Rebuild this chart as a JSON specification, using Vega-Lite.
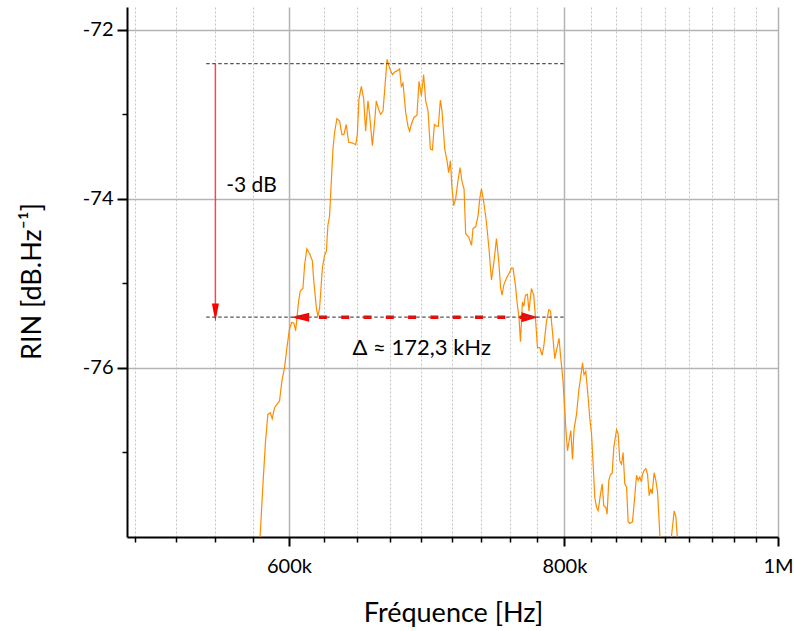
{
  "$schema": "https://vega.github.io/schema/vega-lite/v6.json",
  "width": 651,
  "height": 530,
  "autosize": "none",
  "padding": {"left": 127, "top": 7, "right": 16, "bottom": 94},
  "background": "white",
  "config": {"view": {"stroke": null}, "font": "Lato"},
  "datasets": {
    "spectrum": [
      {"f": 581500, "rin": -78.24}, {"f": 583800, "rin": -77.41}, {"f": 585500, "rin": -76.86}, {"f": 586900, "rin": -76.55},
      {"f": 588400, "rin": -76.53}, {"f": 589600, "rin": -76.60}, {"f": 591000, "rin": -76.47}, {"f": 594100, "rin": -76.39},
      {"f": 595600, "rin": -76.15}, {"f": 597200, "rin": -76.00}, {"f": 598700, "rin": -75.76}, {"f": 600400, "rin": -75.53},
      {"f": 601800, "rin": -75.46}, {"f": 603100, "rin": -75.47}, {"f": 604200, "rin": -75.56}, {"f": 605200, "rin": -75.37},
      {"f": 606100, "rin": -75.21}, {"f": 607100, "rin": -75.09}, {"f": 608800, "rin": -75.06}, {"f": 609900, "rin": -74.78},
      {"f": 611300, "rin": -74.59}, {"f": 613100, "rin": -74.65}, {"f": 614800, "rin": -74.73}, {"f": 615800, "rin": -74.98},
      {"f": 617400, "rin": -75.29}, {"f": 618400, "rin": -75.39}, {"f": 619500, "rin": -75.29}, {"f": 621300, "rin": -74.82},
      {"f": 622700, "rin": -74.67}, {"f": 623900, "rin": -74.62}, {"f": 624900, "rin": -74.31}, {"f": 626000, "rin": -74.20},
      {"f": 627100, "rin": -73.80}, {"f": 628200, "rin": -73.41}, {"f": 629300, "rin": -73.21}, {"f": 630800, "rin": -73.05},
      {"f": 632600, "rin": -73.08}, {"f": 634100, "rin": -73.24}, {"f": 635400, "rin": -73.24}, {"f": 637000, "rin": -73.12},
      {"f": 638600, "rin": -73.33}, {"f": 641400, "rin": -73.34}, {"f": 643300, "rin": -73.36}, {"f": 644400, "rin": -73.24},
      {"f": 645500, "rin": -72.82}, {"f": 647100, "rin": -72.67}, {"f": 648700, "rin": -72.82}, {"f": 650000, "rin": -73.20},
      {"f": 651600, "rin": -72.84}, {"f": 652700, "rin": -73.00}, {"f": 654600, "rin": -73.37}, {"f": 656200, "rin": -73.08},
      {"f": 657300, "rin": -72.84}, {"f": 658900, "rin": -72.94}, {"f": 660300, "rin": -73.00}, {"f": 661900, "rin": -72.96},
      {"f": 663100, "rin": -72.71}, {"f": 664700, "rin": -72.35}, {"f": 666500, "rin": -72.45}, {"f": 668400, "rin": -72.53},
      {"f": 670000, "rin": -72.50}, {"f": 672300, "rin": -72.48}, {"f": 673500, "rin": -72.46}, {"f": 674700, "rin": -72.67},
      {"f": 675900, "rin": -72.63}, {"f": 677800, "rin": -72.98}, {"f": 679400, "rin": -73.14}, {"f": 680600, "rin": -73.20},
      {"f": 681800, "rin": -73.12}, {"f": 683500, "rin": -73.04}, {"f": 685800, "rin": -73.01}, {"f": 687300, "rin": -72.61},
      {"f": 689000, "rin": -72.78}, {"f": 690600, "rin": -72.53}, {"f": 692100, "rin": -72.84}, {"f": 693800, "rin": -72.96},
      {"f": 695500, "rin": -73.41}, {"f": 697000, "rin": -73.42}, {"f": 698400, "rin": -73.12}, {"f": 699900, "rin": -73.14},
      {"f": 701300, "rin": -73.14}, {"f": 702800, "rin": -72.83}, {"f": 704000, "rin": -72.96}, {"f": 706000, "rin": -73.41},
      {"f": 707700, "rin": -73.55}, {"f": 708900, "rin": -73.69}, {"f": 710200, "rin": -73.55}, {"f": 711400, "rin": -73.88},
      {"f": 712700, "rin": -74.08}, {"f": 714100, "rin": -74.00}, {"f": 715900, "rin": -73.78}, {"f": 717400, "rin": -73.63},
      {"f": 718900, "rin": -73.80}, {"f": 720400, "rin": -73.88}, {"f": 721600, "rin": -74.41}, {"f": 722600, "rin": -74.43},
      {"f": 723900, "rin": -74.45}, {"f": 726000, "rin": -74.55}, {"f": 727200, "rin": -74.35}, {"f": 729200, "rin": -74.33},
      {"f": 731000, "rin": -74.20}, {"f": 732300, "rin": -74.00}, {"f": 733600, "rin": -73.88}, {"f": 735400, "rin": -74.04},
      {"f": 737400, "rin": -74.27}, {"f": 739400, "rin": -74.59}, {"f": 741300, "rin": -74.96}, {"f": 743300, "rin": -74.74},
      {"f": 745200, "rin": -74.47}, {"f": 747000, "rin": -74.74}, {"f": 748500, "rin": -75.06}, {"f": 749600, "rin": -75.14},
      {"f": 750900, "rin": -75.02}, {"f": 753000, "rin": -74.94}, {"f": 755100, "rin": -74.88}, {"f": 757000, "rin": -74.82},
      {"f": 758200, "rin": -74.82}, {"f": 760100, "rin": -75.02}, {"f": 761400, "rin": -75.22}, {"f": 763000, "rin": -75.41},
      {"f": 764100, "rin": -75.69}, {"f": 765700, "rin": -75.22}, {"f": 766800, "rin": -75.27}, {"f": 768100, "rin": -75.14},
      {"f": 769700, "rin": -75.13}, {"f": 771000, "rin": -75.33}, {"f": 772900, "rin": -75.06}, {"f": 774800, "rin": -75.14},
      {"f": 776400, "rin": -75.45}, {"f": 777800, "rin": -75.76}, {"f": 779700, "rin": -75.76}, {"f": 781600, "rin": -75.85},
      {"f": 783000, "rin": -75.74}, {"f": 785200, "rin": -75.45}, {"f": 787100, "rin": -75.31}, {"f": 788500, "rin": -75.33},
      {"f": 790100, "rin": -75.57}, {"f": 792000, "rin": -75.89}, {"f": 793900, "rin": -75.76}, {"f": 795600, "rin": -75.65},
      {"f": 796700, "rin": -75.84}, {"f": 798900, "rin": -76.16}, {"f": 801200, "rin": -76.71}, {"f": 802600, "rin": -76.98},
      {"f": 805400, "rin": -76.74}, {"f": 806800, "rin": -77.08}, {"f": 808100, "rin": -76.73}, {"f": 810200, "rin": -76.55},
      {"f": 812100, "rin": -76.27}, {"f": 813600, "rin": -76.12}, {"f": 815300, "rin": -75.94}, {"f": 816600, "rin": -76.08},
      {"f": 818100, "rin": -76.04}, {"f": 820100, "rin": -76.35}, {"f": 821500, "rin": -76.59}, {"f": 823000, "rin": -76.78},
      {"f": 824400, "rin": -77.14}, {"f": 825800, "rin": -77.53}, {"f": 827300, "rin": -77.65}, {"f": 828700, "rin": -77.69},
      {"f": 830800, "rin": -77.49}, {"f": 832200, "rin": -77.37}, {"f": 833600, "rin": -77.63}, {"f": 835400, "rin": -77.65},
      {"f": 836500, "rin": -77.73}, {"f": 838000, "rin": -77.33}, {"f": 839500, "rin": -77.26}, {"f": 840900, "rin": -77.25},
      {"f": 842400, "rin": -76.94}, {"f": 844800, "rin": -76.73}, {"f": 846200, "rin": -76.78}, {"f": 847700, "rin": -77.10},
      {"f": 849200, "rin": -77.14}, {"f": 850600, "rin": -77.00}, {"f": 852100, "rin": -77.37}, {"f": 853700, "rin": -77.41},
      {"f": 855100, "rin": -77.82}, {"f": 856600, "rin": -77.84}, {"f": 859000, "rin": -77.82}, {"f": 861100, "rin": -77.51},
      {"f": 862600, "rin": -77.27}, {"f": 864100, "rin": -77.33}, {"f": 865600, "rin": -77.29}, {"f": 867100, "rin": -77.35},
      {"f": 868000, "rin": -77.26}, {"f": 869500, "rin": -77.21}, {"f": 871000, "rin": -77.19}, {"f": 872600, "rin": -77.26},
      {"f": 874100, "rin": -77.51}, {"f": 875600, "rin": -77.43}, {"f": 876800, "rin": -77.49}, {"f": 878600, "rin": -77.24},
      {"f": 880200, "rin": -77.33}, {"f": 881800, "rin": -77.47}, {"f": 883900, "rin": -77.98}, {"f": 886700, "rin": -78.35},
      {"f": 891300, "rin": -78.41}, {"f": 894800, "rin": -77.98}, {"f": 897200, "rin": -77.69}, {"f": 898800, "rin": -77.76},
      {"f": 900000, "rin": -77.98}, {"f": 901600, "rin": -78.35}
    ],
    "levels": [
      {"f1": 550300, "f2": 800000, "rin": -72.40},
      {"f1": 550300, "f2": 800000, "rin": -75.40}
    ],
    "drop": [{"f": 555600, "top": -72.40, "bottom": -75.35}],
    "span": [{"f1": 604800, "f2": 767600, "rin": -75.40}],
    "heads": [
      {"f": 555600, "rin": -75.45, "dir": "down"},
      {"f": 601400, "rin": -75.40, "dir": "left"},
      {"f": 778300, "rin": -75.40, "dir": "right"}
    ],
    "note3db": [{"f": 561900, "rin": -73.92, "text": "-3 dB"}],
    "notedelta": [{"f": 641200, "rin": -75.85, "text": "Δ ≈ 172,3 kHz"}]
  },
  "resolve": {
    "scale": {"x": "shared", "y": "shared"},
    "axis": {"x": "independent", "y": "independent"}
  },
  "layer": [
    {
      "data": {"name": "spectrum"},
      "mark": {"type": "line", "color": "#ff8c00", "strokeWidth": 1.2, "clip": true},
      "encoding": {
        "x": {
          "field": "f", "type": "quantitative",
          "scale": {"type": "log", "domain": [506600, 1000000], "nice": false},
          "axis": {
            "orient": "bottom",
            "values": [511111.1, 533333.3, 555555.6, 577777.8, 622222.2, 644444.4, 666666.7, 688888.9, 711111.1, 733333.3, 755555.6, 777777.8, 822222.2, 844444.4, 866666.7, 888888.9, 911111.1, 933333.3, 955555.6, 977777.8],
            "title": null, "labels": false, "domain": false,
            "ticks": true, "tickSize": 5, "tickWidth": 1.5, "tickColor": "#000000",
            "grid": true, "gridColor": "#c4c4c4", "gridWidth": 1, "gridDash": [2, 2]
          }
        },
        "y": {
          "field": "rin", "type": "quantitative",
          "scale": {"domain": [-78, -71.73], "nice": false, "zero": false},
          "axis": {
            "orient": "left",
            "values": [-77, -75, -73],
            "title": null, "labels": false, "domain": false, "grid": false,
            "ticks": true, "tickSize": 5, "tickWidth": 1.5, "tickColor": "#000000"
          }
        }
      }
    },
    {
      "data": {"name": "drop"},
      "mark": {"type": "rule", "color": "#ff2a2a", "strokeWidth": 1.5, "opacity": 0.85},
      "encoding": {
        "x": {"field": "f", "type": "quantitative", "axis": null},
        "y": {"field": "top", "type": "quantitative", "axis": null},
        "y2": {"field": "bottom"}
      }
    },
    {
      "data": {"name": "span"},
      "mark": {"type": "rule", "color": "#ff0000", "strokeWidth": 3.5, "strokeDash": [8, 14.3]},
      "encoding": {
        "x": {"field": "f1", "type": "quantitative", "axis": null},
        "x2": {"field": "f2"},
        "y": {"field": "rin", "type": "quantitative", "axis": null}
      }
    },
    {
      "data": {"name": "heads"},
      "mark": {"type": "point", "filled": true, "color": "#ff0000", "opacity": 1, "size": 324, "strokeWidth": 0},
      "encoding": {
        "x": {"field": "f", "type": "quantitative", "axis": null},
        "y": {"field": "rin", "type": "quantitative", "axis": null},
        "shape": {
          "field": "dir", "type": "nominal", "legend": null,
          "scale": {
            "domain": ["down", "left", "right"],
            "range": ["M-0.39,-2L0.39,-2L0,0Z", "M0,0L2,-0.5L2,0.5Z", "M0,0L-1.85,-0.55L-1.85,0.55Z"]
          }
        }
      }
    },
    {
      "data": {"name": "levels"},
      "mark": {"type": "rule", "color": "#555555", "strokeWidth": 1.3, "strokeDash": [3.5, 2.5]},
      "encoding": {
        "x": {
          "field": "f1", "type": "quantitative",
          "axis": {
            "orient": "bottom",
            "values": [600000, 800000, 1000000],
            "title": "Fréquence [Hz]",
            "titleFont": "Lato", "titleFontSize": 27, "titleFontWeight": "normal", "titleColor": "#000000",
            "titleX": 326, "titleY": 84, "titleBaseline": "alphabetic", "titleAlign": "center",
            "labelExpr": "datum.value == 600000 ? '600k' : datum.value == 800000 ? '800k' : '1M'",
            "labelFont": "Lato", "labelFontSize": 20, "labelColor": "#000000",
            "labelFlush": false, "labelOverlap": false, "labelBound": false,
            "labelBaseline": "alphabetic", "labelPadding": 26,
            "domain": true, "domainColor": "#000000", "domainWidth": 2,
            "ticks": true, "tickSize": 9, "tickWidth": 2, "tickColor": "#000000",
            "grid": true, "gridColor": "#b4b4b4", "gridWidth": 1.5
          }
        },
        "x2": {"field": "f2"},
        "y": {
          "field": "rin", "type": "quantitative",
          "axis": {
            "orient": "left",
            "values": [-76, -74, -72],
            "title": "RIN [dB.Hz⁻¹]",
            "titleFont": "Lato", "titleFontSize": 27, "titleFontWeight": "normal", "titleColor": "#000000",
            "titleAngle": -90, "titleX": -87, "titleY": 274, "titleBaseline": "alphabetic", "titleAlign": "center",
            "labelExpr": "'-' + abs(datum.value)",
            "labelFont": "Lato", "labelFontSize": 20, "labelColor": "#000000",
            "labelOverlap": false, "labelFlush": false, "labelBound": false,
            "labelPadding": 4,
            "domain": true, "domainColor": "#000000", "domainWidth": 2,
            "ticks": true, "tickSize": 10, "tickWidth": 2, "tickColor": "#000000",
            "grid": true, "gridColor": "#b4b4b4", "gridWidth": 1.5
          }
        }
      }
    },
    {
      "data": {"name": "note3db"},
      "mark": {"type": "text", "align": "left", "baseline": "alphabetic", "font": "Lato", "fontSize": 21, "color": "#000000"},
      "encoding": {
        "x": {"field": "f", "type": "quantitative", "axis": null},
        "y": {"field": "rin", "type": "quantitative", "axis": null},
        "text": {"field": "text"}
      }
    },
    {
      "data": {"name": "notedelta"},
      "mark": {"type": "text", "align": "left", "baseline": "alphabetic", "font": "Lato", "fontSize": 22, "color": "#000000"},
      "encoding": {
        "x": {"field": "f", "type": "quantitative", "axis": null},
        "y": {"field": "rin", "type": "quantitative", "axis": null},
        "text": {"field": "text"}
      }
    }
  ]
}
